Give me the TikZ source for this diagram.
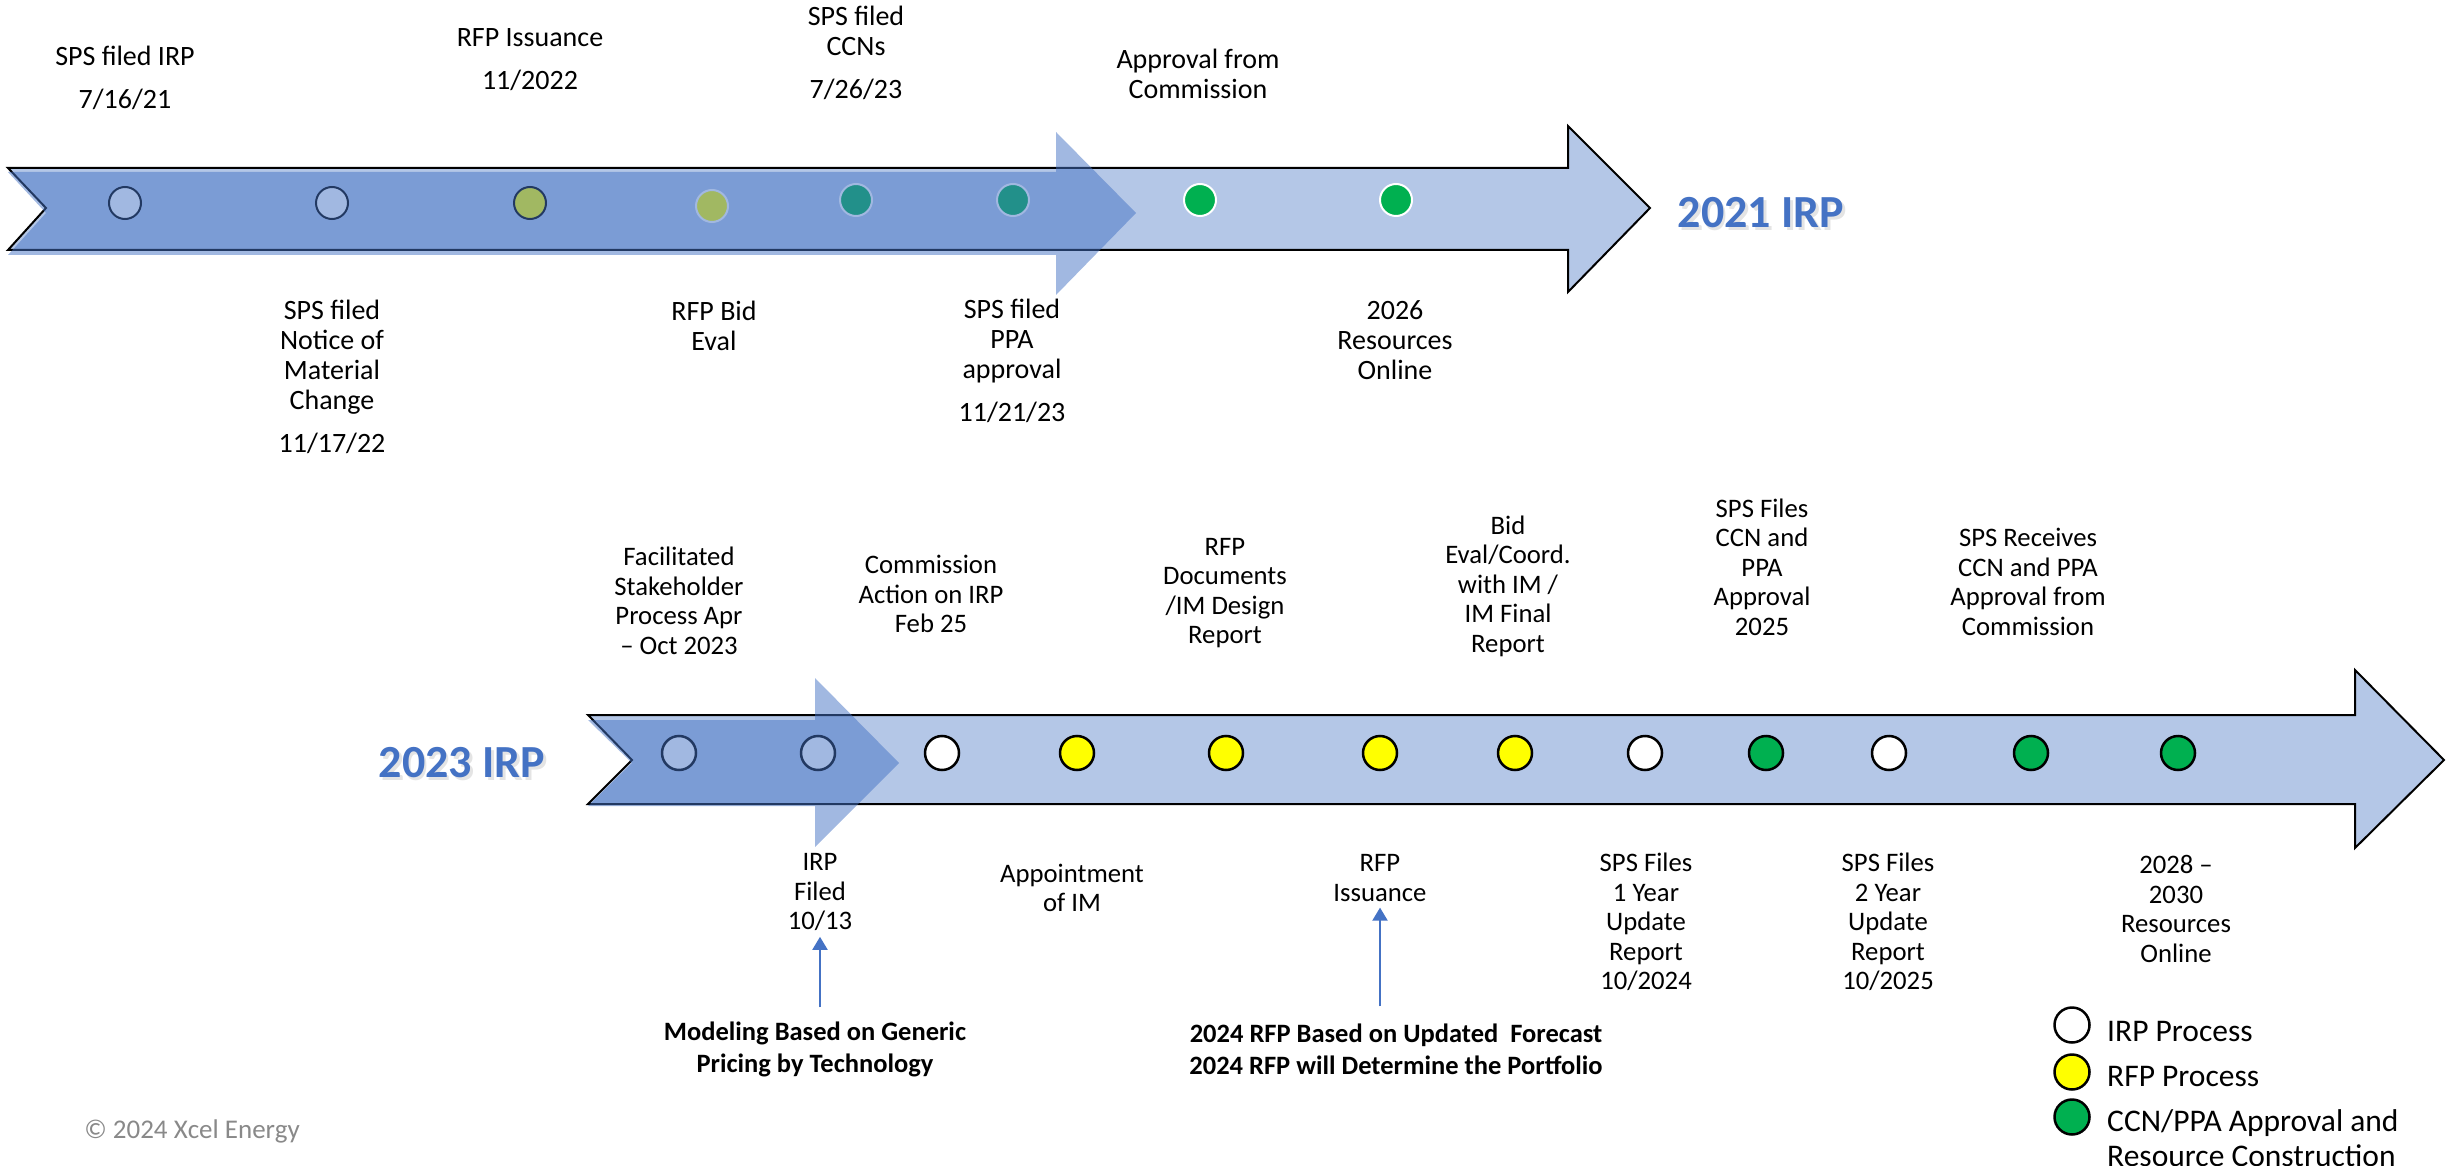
\documentclass[tikz,border=0pt]{standalone}
\usepackage{fontspec}
\setmainfont{Carlito}
\usetikzlibrary{arrows.meta}
\definecolor{lightblue}{HTML}{B4C7E7}
\definecolor{accent}{HTML}{4472C4}
\definecolor{ggreen}{HTML}{00B050}
\definecolor{gyellow}{HTML}{FFFF00}
\definecolor{cgray}{HTML}{898989}
\begin{document}
\begin{tikzpicture}[x=1pt,y=-1pt,
  bigarrow/.style={fill=lightblue,draw=black,line width=2pt,line join=miter},
  progress/.style={fill=accent,fill opacity=0.5},
  tdot/.style={circle,minimum size=32pt,inner sep=0pt,line width=2pt},
  ldot/.style={circle,minimum size=34pt,inner sep=0pt,line width=2.5pt,draw=black},
  gdot/.style={circle,minimum size=35pt,inner sep=0pt,line width=2.5pt,draw=black},
  lbl/.style={align=center,inner sep=0pt,font=\fontsize{28}{30}\selectfont},
  lbll/.style={align=center,inner sep=0pt,font=\fontsize{26.7}{29.5}\selectfont},
  notetext/.style={align=center,inner sep=0pt,font=\fontsize{26.5}{32}\selectfont\bfseries},
  yeartitle/.style={text=accent,font=\fontsize{46}{50}\selectfont\bfseries,inner sep=0pt},
  yearshadow/.style={text=black!35,text opacity=0.3,font=\fontsize{46}{50}\selectfont\bfseries,inner sep=0pt},
  pointer/.style={draw=accent,line width=2pt,-{Triangle[length=13pt,width=15pt]}},
  legtext/.style={anchor=west,inner sep=0pt,font=\fontsize{31.5}{35}\selectfont,align=left},
]
\useasboundingbox (0,0) rectangle (2458,1166);

% ---------- 2021 IRP timeline ----------
\path[bigarrow] (8,168) -- (1568,168) -- (1568,126) -- (1650,208) -- (1568,292) -- (1568,250) -- (8,250) -- (46,208) -- cycle;
\node[tdot,fill=white,draw=black] (c1) at (125,203) {};
\node[tdot,fill=white,draw=black] (c2) at (332,203) {};
\node[tdot,fill=gyellow,draw=black] (c3) at (530,203) {};
\node[tdot,fill=gyellow,draw=white] (c4) at (712,206) {};
\node[tdot,fill=ggreen,draw=white] (c5) at (856,200) {};
\node[tdot,fill=ggreen,draw=white] (c6) at (1013,200) {};
\node[tdot,fill=ggreen,draw=white] (c7) at (1200,200) {};
\node[tdot,fill=ggreen,draw=white] (c8) at (1396,200) {};
\path[progress] (8,172) -- (1056,172) -- (1056,132) -- (1136,213) -- (1056,295) -- (1056,255) -- (8,255) -- (46,213) -- cycle;

\node[yearshadow] (t1s) at (1763.5,215.5) {2021 IRP};
\node[yeartitle] (t1) at (1761,213) {2021 IRP};

\node[lbl] (u1) at (125,78) {SPS filed IRP\\[13pt]7/16/21};
\node[lbl] (u2) at (530,60) {RFP Issuance\\[13pt]11/2022};
\node[lbl] (u3) at (856,53) {SPS filed\\CCNs\\[13pt]7/26/23};
\node[lbl] (u4) at (1198,74) {Approval from\\Commission};
\node[lbl] (u5) at (332,377) {SPS filed\\Notice of\\Material\\Change\\[13pt]11/17/22};
\node[lbl] (u6) at (714,326) {RFP Bid\\Eval};
\node[lbl] (u7) at (1012,361) {SPS filed\\PPA\\approval\\[13pt]11/21/23};
\node[lbl] (u8) at (1395,340) {2026\\Resources\\Online};

% ---------- 2023 IRP timeline ----------
\path[bigarrow] (588,715) -- (2355,715) -- (2355,670) -- (2444,760) -- (2355,848) -- (2355,804) -- (588,804) -- (632,760) -- cycle;
\node[ldot,fill=white] (d1) at (679,753) {};
\node[ldot,fill=white] (d2) at (818,753) {};
\node[ldot,fill=white] (d3) at (942,753) {};
\node[ldot,fill=gyellow] (d4) at (1077,753) {};
\node[ldot,fill=gyellow] (d5) at (1226,753) {};
\node[ldot,fill=gyellow] (d6) at (1380,753) {};
\node[ldot,fill=gyellow] (d7) at (1515,753) {};
\node[ldot,fill=white] (d8) at (1645,753) {};
\node[ldot,fill=ggreen] (d9) at (1766,753) {};
\node[ldot,fill=white] (d10) at (1889,753) {};
\node[ldot,fill=ggreen] (d11) at (2031,753) {};
\node[ldot,fill=ggreen] (d12) at (2178,753) {};
\path[progress] (588,720) -- (815,720) -- (815,678) -- (899,763) -- (815,847) -- (815,806) -- (588,806) -- (632,763) -- cycle;

\node[yearshadow] (t2s) at (464.5,765.5) {2023 IRP};
\node[yeartitle] (t2) at (462,763) {2023 IRP};

\node[lbll] (l1) at (679,601) {Facilitated\\Stakeholder\\Process Apr\\– Oct 2023};
\node[lbll] (l2) at (931,594) {Commission\\Action on IRP\\Feb 25};
\node[lbll] (l3) at (1225,593) {RFP\\Documents\\/IM Design\\Report};
\node[lbll] (l4) at (1508,586) {Bid\\Eval/Coord.\\with IM /\\IM Final\\Report};
\node[lbll] (l5) at (1762,567) {SPS Files\\CCN and\\PPA\\Approval\\2025};
\node[lbll] (l6) at (2028,582) {SPS Receives\\CCN and PPA\\Approval from\\Commission};

\node[lbll] (b1) at (820,892) {IRP\\Filed\\10/13};
\node[lbll] (b2) at (1072,888) {Appointment\\of IM};
\node[lbll] (b3) at (1380,878) {RFP\\Issuance};
\node[lbll] (b4) at (1646,922) {SPS Files\\1 Year\\Update\\Report\\10/2024};
\node[lbll] (b5) at (1888,922) {SPS Files\\2 Year\\Update\\Report\\10/2025};
\node[lbll] (b6) at (2176,909) {2028 –\\2030\\Resources\\Online};

\node[notetext] (n1) at (815,1049) {Modeling Based on Generic\\Pricing by Technology};
\node[notetext] (n2) at (1396,1049) {2024 RFP Based on Updated\ \ Forecast\\2024 RFP will Determine the Portfolio};

\draw[pointer,shorten <=14pt,shorten >=6pt] (n1.north -| b1.south) -- (b1.south);
\draw[pointer,shorten <=17pt,shorten >=6pt] (n2.north -| b3.south) -- (b3.south);

% ---------- legend ----------
\node[gdot,fill=white] (g1) at (2072,1025) {};
\node[gdot,fill=gyellow] (g2) at (2072,1072) {};
\node[gdot,fill=ggreen] (g3) at (2072,1117) {};
\node[legtext] (gt1) at (2107,1032) {IRP Process};
\node[legtext] (gt2) at (2107,1077) {RFP Process};
\node[legtext] (gt3) at (2107,1138) {CCN/PPA Approval and\\Resource Construction};

\node[inner sep=0pt,text=cgray,font=\fontsize{27}{30}\selectfont] (copy) at (192,1131) {© 2024 Xcel Energy};
\end{tikzpicture}
\end{document}
